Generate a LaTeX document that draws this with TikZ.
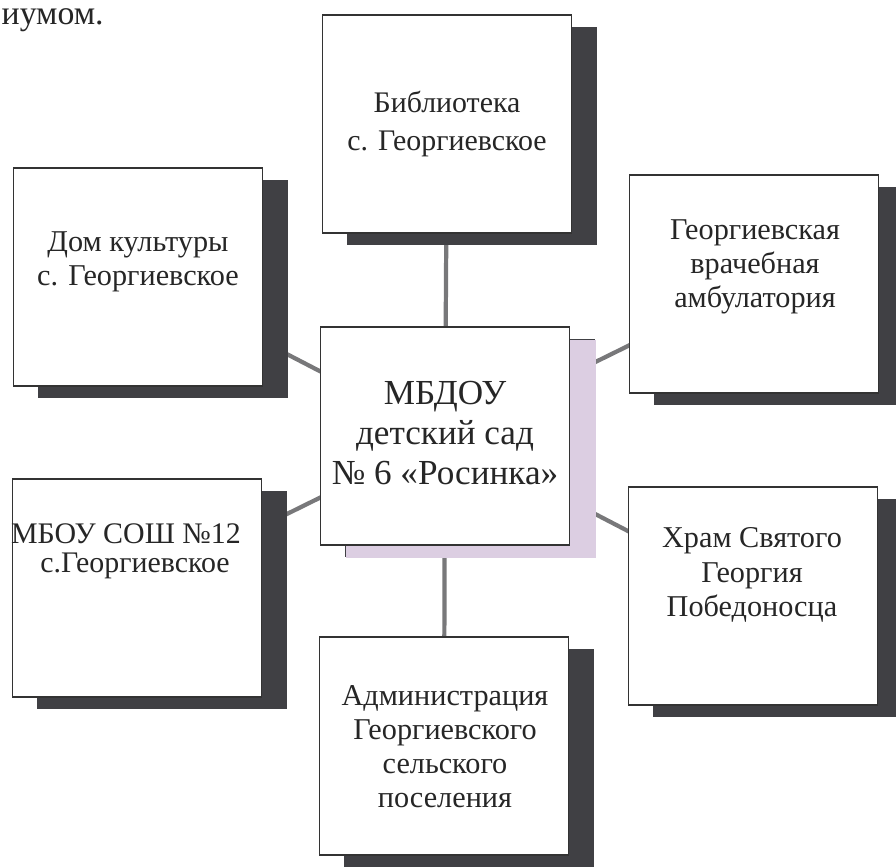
\documentclass[tikz,border=0pt]{standalone}
\usepackage{fontspec}
\setmainfont{Liberation Serif}
\usetikzlibrary{shadows,backgrounds}

\definecolor{shadowgray}{RGB}{64,64,68}
\definecolor{lilac}{RGB}{220,206,226}
\definecolor{linkgray}{RGB}{120,120,122}

\begin{document}
\begin{tikzpicture}[x=0.01cm,y=-0.01cm]
\tikzset{
  card/.style={draw=black!80, line width=0.5pt, fill=white, inner sep=0pt,
    minimum width=2.49cm, minimum height=2.18cm,
    drop shadow={shadow xshift=0.25cm, shadow yshift=-0.12cm, fill=shadowgray, opacity=1}},
  maincard/.style={card,
    drop shadow={shadow xshift=0.26cm, shadow yshift=-0.13cm, fill=lilac, opacity=1}},
  cardtext/.style={align=center, inner sep=0pt, text=black!85,
    font=\fontsize{8.6}{9.7}\selectfont},
  maintext/.style={cardtext, font=\fontsize{10}{11.5}\selectfont},
  link/.style={draw=linkgray, line width=1.2pt}
}
\useasboundingbox (0,0) rectangle (896,868);

% line left over from the text above
\node[anchor=base west, inner sep=0pt, text=black!85, font=\fontsize{9.6}{12}\selectfont] (prevline) at (1,25) {иумом.};

% boxes
\node[card] (bib) at (447,124) {};
\node[card] (dom) at (138,277) {};
\node[card] (amb) at (754,284) {};
\node[maincard] (mbdou) at (445,436) {};
\node[card] (mbou) at (137,588) {};
\node[card] (hram) at (753,596) {};
\node[card] (adm) at (444,746) {};

% texts
\node[cardtext, font=\fontsize{8.5}{10.6}\selectfont] (bib-t) at (447,124) {Библиотека\\с. Георгиевское};
\node[cardtext] (dom-t) at (138,262) {Дом культуры\\с. Георгиевское};
\node[cardtext] (amb-t) at (755,267) {Георгиевская\\врачебная\\амбулатория};
\node[maintext] (mbdou-t) at (445,433) {МБДОУ\\детский сад\\№ 6 «Росинка»};
\node[cardtext, font=\fontsize{8.5}{8.3}\selectfont] (mbou-t) at (135,551) {МБОУ СОШ №12\hspace*{0.18cm}\\с.Георгиевское};
\node[cardtext] (hram-t) at (752,575) {Храм Святого\\Георгия\\Победоносца};
\node[cardtext] (adm-t) at (445,747) {Администрация\\Георгиевского\\сельского\\поселения};

% connectors
\begin{scope}[on background layer]
\foreach \n in {bib,dom,amb,mbou,hram,adm}
  \draw[link] (mbdou.center) -- (\n.center);
\end{scope}
\end{tikzpicture}
\end{document}
